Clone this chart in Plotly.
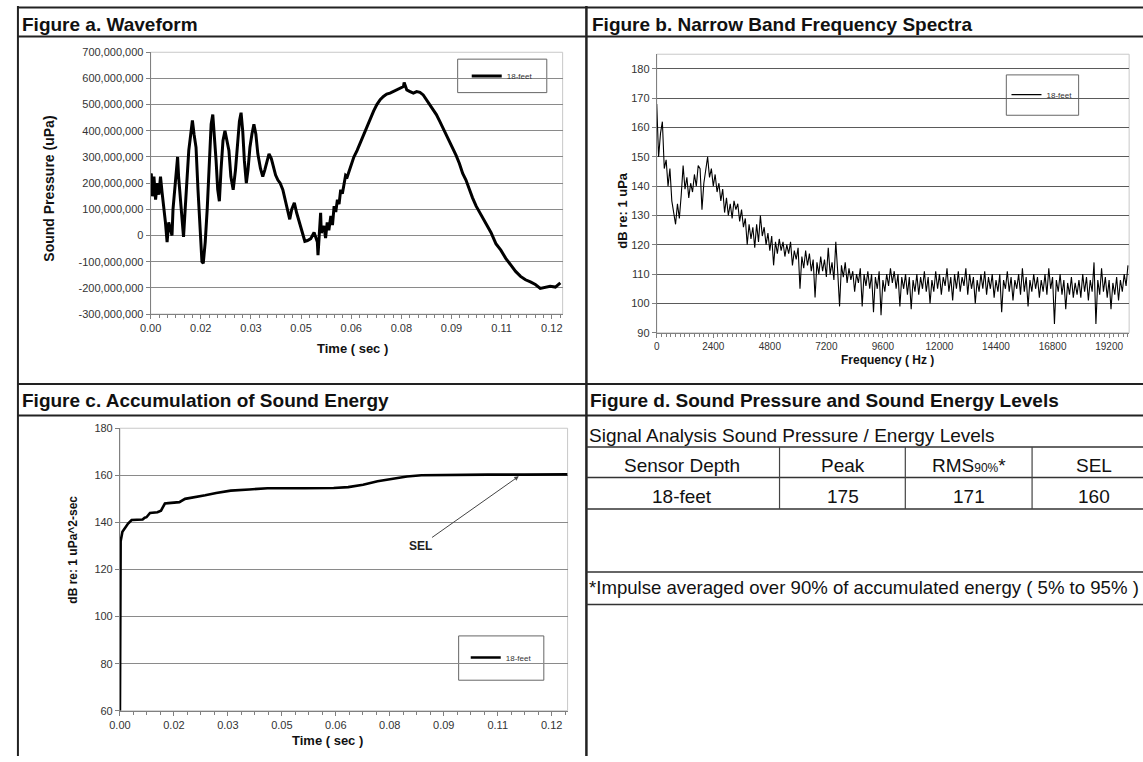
import plotly.graph_objects as go

W, H = 1143, 762
FONT = "Liberation Sans, Arial, Helvetica, sans-serif"


def px(x):
    return x / W


def py(y):
    return 1 - y / H


# ---------------- Figure a: waveform ----------------
wave_time_s = [
    0.0000, 0.0002, 0.0005, 0.0010, 0.0015, 0.0020, 0.0025, 0.0030, 0.0035, 0.0040,
    0.0045, 0.0050, 0.0055, 0.0060, 0.0065, 0.0068, 0.0072, 0.0078, 0.0082, 0.0085,
    0.0090, 0.0095, 0.0100, 0.0105, 0.0111, 0.0116, 0.0122, 0.0127, 0.0132, 0.0138,
    0.0144, 0.0151, 0.0156, 0.0160, 0.0166, 0.0172, 0.0178, 0.0184, 0.0189, 0.0194,
    0.0199, 0.0204, 0.0209, 0.0214, 0.0220, 0.0226, 0.0232, 0.0238, 0.0244, 0.0251,
    0.0258, 0.0264, 0.0270, 0.0275, 0.0280, 0.0285, 0.0291, 0.0296, 0.0302, 0.0308,
    0.0314, 0.0320, 0.0326, 0.0334, 0.0341, 0.0347, 0.0353, 0.0360, 0.0367, 0.0374,
    0.0380, 0.0387, 0.0394, 0.0402, 0.0409, 0.0417, 0.0423, 0.0429, 0.0437, 0.0444,
    0.0452, 0.0460, 0.0469, 0.0477, 0.0487, 0.0497, 0.0503, 0.0507, 0.0509, 0.0513,
    0.0517, 0.0519, 0.0527, 0.0532, 0.0537, 0.0542, 0.0548, 0.0553, 0.0558, 0.0563,
    0.0568, 0.0573, 0.0578, 0.0583, 0.0588, 0.0593, 0.0598, 0.0608, 0.0618, 0.0628,
    0.0638, 0.0648, 0.0658, 0.0668, 0.0678, 0.0688, 0.0698, 0.0708, 0.0718, 0.0728,
    0.0738, 0.0748, 0.0758, 0.0769, 0.0771, 0.0779, 0.0789, 0.0799, 0.0809, 0.0819,
    0.0829, 0.0839, 0.0849, 0.0859, 0.0869, 0.0879, 0.0889, 0.0899, 0.0909, 0.0919,
    0.0929, 0.0939, 0.0949, 0.0959, 0.0969, 0.0979, 0.0990, 0.1000, 0.1010, 0.1020,
    0.1035, 0.1050, 0.1065, 0.1080, 0.1095, 0.1110, 0.1125, 0.1140, 0.1155, 0.1170,
    0.1185, 0.1200, 0.1215, 0.1231, 0.1246,
]
# sound pressure in millions of uPa
wave_pressure_mupa = [
    230, 237, 150, 225, 137, 200, 156, 225, 162, 112,
    50, -25, 50, 25, 0, 100, 156, 225, 300, 225,
    137, 50, -5, 100, 225, 325, 387, 440, 387, 337,
    175, 25, -100, -106, -25, 100, 287, 425, 462, 387,
    287, 175, 131, 250, 362, 400, 362, 325, 225, 175,
    250, 362, 437, 469, 400, 287, 200, 250, 337, 387,
    425, 387, 312, 256, 225, 250, 275, 312, 294, 262,
    231, 212, 200, 175, 137, 87, 62, 100, 125, 87,
    50, 12, -22, -19, -12, 12, -15, -25, -75, 20,
    87, 10, 37, -10, 50, 20, 75, 40, 112, 90,
    137, 120, 175, 160, 200, 230, 225, 262, 300, 325,
    356, 381, 412, 444, 475, 500, 519, 531, 540, 544,
    550, 556, 562, 569, 585, 556, 550, 544, 550, 547,
    537, 519, 500, 481, 462, 437, 412, 387, 362, 337,
    306, 275, 237, 212, 175, 144, 112, 90, 69, 50,
    12, -31, -56, -87, -112, -137, -156, -169, -177, -187,
    -202, -197, -194, -197, -181,
]

# ---------------- Figure b: narrow band spectrum ----------------
spectrum_bin_hz = 80
spectrum_db = [
    168, 150, 158, 162, 146, 149, 140, 146, 135, 131,
    127, 134, 129, 137, 147, 139, 143, 136, 141, 138,
    144, 140, 147, 146, 132, 141, 145, 150, 143, 146,
    140, 144, 138, 141, 135, 139, 131, 136, 130, 134,
    129, 135, 132, 134, 128, 132, 126, 129, 120, 127,
    122, 126, 119, 127, 121, 130, 123, 126, 120, 124,
    118, 123, 113, 121, 117, 122, 118, 121, 116, 120,
    117, 121, 113, 118, 115, 119, 105, 116, 112, 118,
    113, 117, 111, 115, 102, 114, 110, 116, 111, 115,
    109, 119, 110, 114, 108, 121, 111, 99, 113, 109,
    114, 107, 112, 108, 111, 104, 110, 107, 112, 99,
    110, 106, 111, 105, 110, 97, 109, 105, 111, 96,
    108, 104, 110, 106, 112, 107, 111, 105, 110, 99,
    109, 105, 110, 103, 109, 98, 108, 104, 110, 103,
    109, 105, 111, 104, 109, 100, 108, 104, 111, 105,
    110, 103, 109, 106, 112, 104, 109, 101, 110, 105,
    111, 104, 109, 106, 112, 103, 110, 105, 109, 100,
    108, 104, 110, 105, 111, 103, 109, 105, 110, 102,
    108, 104, 110, 97, 108, 105, 111, 104, 109, 101,
    108, 105, 110, 103, 112, 104, 109, 99, 108, 104,
    110, 105, 109, 102, 108, 104, 110, 103, 112, 105,
    109, 93, 108, 104, 110, 103, 108, 98, 107, 103,
    109, 102, 107, 103, 108, 102, 110, 104, 109, 101,
    108, 104, 114, 93, 108, 103, 112, 104, 109, 102,
    108, 98, 107, 103, 109, 101, 108, 104, 110, 106,
    113,
]
spectrum_freq_hz = [i * spectrum_bin_hz for i in range(len(spectrum_db))]

# ---------------- Figure c: accumulated sound energy ----------------
sel_time_s = [
    0.0, 0.0001, 0.0002, 0.0007, 0.0015, 0.0023, 0.0033, 0.0049, 0.0064, 0.0070,
    0.0075, 0.0085, 0.0090, 0.0106, 0.0116, 0.0122, 0.0127, 0.0137, 0.0168, 0.0184,
    0.0209, 0.0241, 0.0272, 0.0313, 0.0365, 0.0417, 0.0521, 0.0604, 0.0645, 0.0687,
    0.0728, 0.0769, 0.0811, 0.0852, 0.0935, 0.1039, 0.1143, 0.1265,
]
sel_db = [
    60, 128, 132, 136, 138, 139.5, 141, 141, 141.2, 142,
    142.2, 144, 144, 144.3, 145, 147, 148, 148.2, 148.6, 150,
    150.6, 151.5, 152.5, 153.5, 154, 154.5, 154.5, 154.6, 155, 156,
    157.5, 158.5, 159.5, 160, 160.2, 160.3, 160.3, 160.4,
]
sel_marker_time_s = 0.1127
sel_marker_db = 159.6

# ---------------- ticks ----------------
time_tick_pos = [0, 0.01525, 0.0305, 0.04575, 0.061, 0.07625, 0.0915, 0.10675, 0.122]
time_tick_text = ["0.00", "0.02", "0.03", "0.05", "0.06", "0.08", "0.09", "0.11", "0.12"]
pressure_tick_vals = [-300e6, -200e6, -100e6, 0, 100e6, 200e6, 300e6, 400e6, 500e6, 600e6, 700e6]
pressure_tick_text = ["-300,000,000", "-200,000,000", "-100,000,000", "0", "100,000,000",
                      "200,000,000", "300,000,000", "400,000,000", "500,000,000",
                      "600,000,000", "700,000,000"]
freq_tick_vals = [0, 2400, 4800, 7200, 9600, 12000, 14400, 16800, 19200]
freq_tick_text = ["0", "2400", "4800", "7200", "9600", "12000", "14400", "16800", "19200"]
spec_db_ticks = [90, 100, 110, 120, 130, 140, 150, 160, 170, 180]
sel_db_ticks = [60, 80, 100, 120, 140, 160, 180]

# ---------------- table (figure d) ----------------
table_caption = "Signal Analysis Sound Pressure / Energy Levels"
table_header = ["Sensor Depth", "Peak", "RMS<span style='font-size:12px'>90%</span>*", "SEL"]
table_row = ["18-feet", "175", "171", "160"]
table_note = "*Impulse averaged over 90% of accumulated energy ( 5% to 95% )"
series_name = "18-feet"

# ---------------- figure ----------------
fig = go.Figure()
fig.add_trace(go.Scatter(
    x=wave_time_s, y=[v * 1e6 for v in wave_pressure_mupa], mode="lines",
    line=dict(color="black", width=3), name=series_name,
    xaxis="x", yaxis="y", legend="legend"))
fig.add_trace(go.Scatter(
    x=spectrum_freq_hz, y=spectrum_db, mode="lines",
    line=dict(color="black", width=1.1), name=series_name,
    xaxis="x2", yaxis="y2", legend="legend2"))
fig.add_trace(go.Scatter(
    x=sel_time_s, y=sel_db, mode="lines",
    line=dict(color="black", width=2.6), name=series_name,
    xaxis="x3", yaxis="y3", legend="legend3"))

tickfont = dict(family=FONT, size=11, color="#333")
axis_common = dict(showline=True, linecolor="#808080", linewidth=1, ticks="outside",
                   ticklen=4, tickcolor="#808080", zeroline=False, fixedrange=True)

fig.update_layout(
    width=W, height=H, autosize=False, showlegend=True,
    margin=dict(l=0, r=0, t=0, b=0),
    paper_bgcolor="white", plot_bgcolor="white",
    font=dict(family=FONT, color="#111"),
    xaxis=dict(domain=[px(141), px(557)], anchor="y", range=[0, 0.1253],
               tickmode="array", tickvals=time_tick_pos, ticktext=time_tick_text,
               showgrid=False, tickfont=tickfont,
               minor=dict(tickmode="linear", tick0=0, dtick=0.0025417, ticks="outside",
                          ticklen=3, tickcolor="#808080", showgrid=False),
               **axis_common),
    yaxis=dict(domain=[py(313), py(47)], anchor="x", range=[-300e6, 700e6],
               tickmode="array", tickvals=pressure_tick_vals, ticktext=pressure_tick_text,
               showgrid=True, gridcolor="#8a8a8a", gridwidth=1, tickfont=tickfont,
               **axis_common),
    xaxis2=dict(domain=[px(652), px(1129)], anchor="y2", range=[0, 20050],
                tickmode="array", tickvals=freq_tick_vals, ticktext=freq_tick_text,
                showgrid=False, tickfont=dict(family=FONT, size=10, color="#333"),
                minor=dict(tickmode="linear", tick0=0, dtick=200, ticks="outside",
                           ticklen=3, tickcolor="#808080", showgrid=False),
                **axis_common),
    yaxis2=dict(domain=[py(332), py(49)], anchor="x2", range=[90, 185],
                tickmode="array", tickvals=spec_db_ticks,
                showgrid=True, gridcolor="#5a5a5a", gridwidth=1.2, tickfont=tickfont,
                **axis_common),
    xaxis3=dict(domain=[px(110), px(562)], anchor="y3", range=[0, 0.1265],
                tickmode="array", tickvals=time_tick_pos, ticktext=time_tick_text,
                showgrid=False, tickfont=tickfont,
                minor=dict(tickmode="linear", tick0=0, dtick=0.0038125, ticks="outside",
                           ticklen=3, tickcolor="#808080", showgrid=False),
                **axis_common),
    yaxis3=dict(domain=[py(716), py(429)], anchor="x3", range=[60, 180],
                tickmode="array", tickvals=sel_db_ticks,
                showgrid=True, gridcolor="#8a8a8a", gridwidth=1, tickfont=tickfont,
                **axis_common),
)

legend_common = dict(xanchor="center", yanchor="middle", bgcolor="rgba(0,0,0,0)",
                     borderwidth=0, font=dict(family=FONT, size=8, color="#333"),
                     itemwidth=30, visible=True)
fig.update_layout(
    legend=dict(x=px(496), y=py(71), **legend_common),
    legend2=dict(x=px(1041), y=py(90), **legend_common),
    legend3=dict(x=px(495), y=py(662), **legend_common),
)

shapes = []
# plot area borders (light gray)
for xr, yr in (("x domain", "y domain"), ("x2 domain", "y2 domain"), ("x3 domain", "y3 domain")):
    shapes.append(dict(type="rect", xref=xr, yref=yr, x0=0, x1=1, y0=0, y1=1,
                       line=dict(color="#c8c8c8", width=1), layer="below"))
# legend boxes
for (x0, x1, y0, y1) in ((451, 541, 54, 88), (1005, 1078, 70, 111), (452, 538, 640, 685)):
    shapes.append(dict(type="rect", xref="paper", yref="paper",
                       x0=px(x0), x1=px(x1), y0=py(y1), y1=py(y0),
                       line=dict(color="#666", width=1), fillcolor="white", layer="below"))


def hline(y, x0, x1, w=2, c="#222"):
    shapes.append(dict(type="line", xref="paper", yref="paper",
                       x0=px(x0), x1=px(x1), y0=py(y), y1=py(y),
                       line=dict(color=c, width=w)))


def vline(x, y0, y1, w=2, c="#222"):
    shapes.append(dict(type="line", xref="paper", yref="paper",
                       x0=px(x), x1=px(x), y0=py(y0), y1=py(y1),
                       line=dict(color=c, width=w)))


hline(1.5, 7, 1143)
hline(31, 7, 1143)
hline(384, 7, 1143)
hline(416, 7, 1143)
vline(7, 0, 762)
vline(581, 0, 762, w=2.5)
for y in (448, 479, 511, 575, 608):
    hline(y, 581, 1143, w=1.5, c="#333")
for x in (776, 903, 1031):
    vline(x, 448, 511, w=1.2, c="#444")

fig.update_layout(shapes=shapes)

ann = []


def text(x, y, s, size=19, bold=False, xanchor="left", angle=0, color="#111"):
    ann.append(dict(x=px(x), y=py(y), xref="paper", yref="paper",
                    text=f"<b>{s}</b>" if bold else s, showarrow=False,
                    xanchor=xanchor, yanchor="middle", textangle=angle,
                    font=dict(family=FONT, size=size, color=color)))


# panel titles
text(9, 19, "Figure a. Waveform", bold=True)
text(585, 19, "Figure b. Narrow Band Frequency Spectra", bold=True)
text(9, 401, "Figure c. Accumulation of Sound Energy", bold=True)
text(583, 401, "Figure d. Sound Pressure and Sound Energy Levels", bold=True)

# axis titles
text(38, 186, "Sound Pressure (uPa)", size=14, bold=True, xanchor="center", angle=-90)
text(345, 348, "Time ( sec )", size=13, bold=True, xanchor="center")
text(618, 208, "dB re: 1 uPa", size=13, bold=True, xanchor="center", angle=-90)
text(885, 360, "Frequency ( Hz )", size=12, bold=True, xanchor="center")
text(63, 552, "dB re: 1 uPa^2-sec", size=12, bold=True, xanchor="center", angle=-90)
text(320, 746, "Time ( sec )", size=13, bold=True, xanchor="center")

# table
text(582, 436, table_caption, size=19)
col_centers = [678, 840, 967, 1094]
for cx, h in zip(col_centers, table_header):
    text(cx, 467, h, size=19, xanchor="center")
for cx, v in zip(col_centers, table_row):
    text(cx, 498, v, size=19, xanchor="center")
text(582, 591, table_note, size=18.6)

# SEL arrow annotation
ann.append(dict(x=sel_marker_time_s, y=sel_marker_db, xref="x3", yref="y3",
                ax=0.0848, ay=130, axref="x3", ayref="y3", text="<b>SEL</b>",
                showarrow=True, arrowhead=2, arrowsize=0.9, arrowwidth=1,
                arrowcolor="#444", font=dict(family=FONT, size=12, color="#222")))

fig.update_layout(annotations=ann)

# reset the default 8px page margin synchronously (not waiting on the plot promise)
reset_css = ("}); document.body.style.margin='0'; document.body.style.padding='0'; "
             "document.body.style.overflow='hidden'; (function(){")
fig.write_html("out.html", config={"displayModeBar": False}, post_script=reset_css)
